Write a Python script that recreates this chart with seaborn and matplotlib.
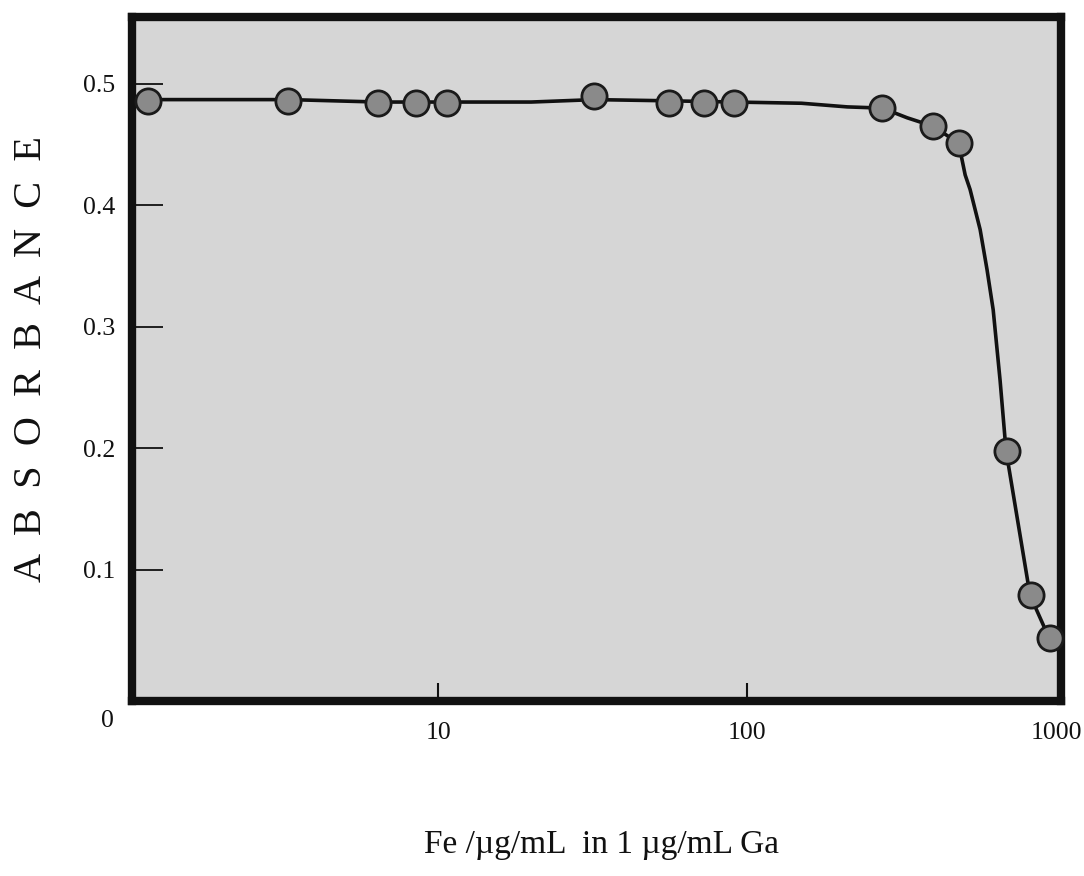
import matplotlib
matplotlib.use("Agg")
import matplotlib.pyplot as plt
import seaborn as sns
import pandas as pd
from matplotlib.ticker import NullLocator

# Measured points: Fe concentration (µg/mL) and absorbance
fe_conc = [1.15, 3.26, 6.4, 8.5, 10.7, 32, 56, 72.5, 91, 274, 401, 484, 695, 830, 955]
absorbance = [0.486, 0.486, 0.484, 0.484, 0.484, 0.490, 0.484, 0.484, 0.484,
              0.480, 0.465, 0.451, 0.198, 0.079, 0.044]

# Hand-drawn smooth curve
curve_x = [1.15, 3.3, 6.4, 10.7, 20, 32, 56, 91, 150, 211, 274, 330, 401, 484,
           508, 527, 568, 598, 626, 659, 689, 824, 949]
curve_y = [0.487, 0.487, 0.485, 0.485, 0.485, 0.487, 0.486, 0.485, 0.484, 0.481,
           0.480, 0.472, 0.465, 0.451, 0.425, 0.413, 0.380, 0.347, 0.314, 0.256,
           0.198, 0.079, 0.044]

x_ticks = [10, 100, 1000]
x_tick_labels = ["10", "100", "1000"]
y_ticks = [0.1, 0.2, 0.3, 0.4, 0.5]
y_tick_labels = ["0.1", "0.2", "0.3", "0.4", "0.5"]

sns.set_style("ticks")
plt.rcParams["font.family"] = ["Liberation Serif", "DejaVu Serif"]

fig = plt.figure(figsize=(10.84, 8.76), dpi=100)
ax = fig.add_axes([0.1218, 0.1998, 0.857, 0.7808])
ax.set_facecolor("#d6d6d6")

pts = pd.DataFrame({"x": fe_conc, "y": absorbance})
crv = pd.DataFrame({"x": curve_x, "y": curve_y})

sns.lineplot(data=crv, x="x", y="y", ax=ax, color="#111111", linewidth=2.6,
             sort=False, estimator=None, zorder=2)
ax.lines[-1].set_solid_joinstyle("round")
sns.scatterplot(data=pts, x="x", y="y", ax=ax, s=330, color="#8a8a8a",
                edgecolor="#1a1a1a", linewidth=2.0, zorder=3, clip_on=False)

ax.set_xscale("log")
ax.set_xlim(1.02, 1038)
ax.set_ylim(-0.008, 0.555)
ax.xaxis.set_minor_locator(NullLocator())
ax.yaxis.set_minor_locator(NullLocator())

ax.set_xticks(x_ticks)
ax.set_xticklabels(x_tick_labels)
ax.set_yticks(y_ticks)
ax.set_yticklabels(y_tick_labels)
ax.tick_params(axis="x", direction="in", length=13, width=1.5, pad=15,
               labelsize=18.5, colors="#111111")
ax.tick_params(axis="y", direction="in", length=22, width=1.3, pad=12,
               labelsize=18.5, colors="#111111")
ax.xaxis.get_major_ticks()[2].tick1line.set_visible(False)

for s in ax.spines.values():
    s.set_visible(True)
    s.set_linewidth(6)
    s.set_color("#111111")

ax.text(-0.027, -0.029, "0", transform=ax.transAxes, ha="center", va="center",
        fontsize=18.5, color="#111111")

ax.set_xlabel("")
ax.set_ylabel("A  B  S  O  R  B  A  N  C  E", fontsize=29, color="#111111",
              labelpad=24)
fig.text(601 / 1084, 1 - 845 / 876, "Fe /µg/mL  in 1 µg/mL Ga", ha="center",
         va="center", fontsize=24, color="#111111")

fig.savefig("out.png", dpi=100, facecolor="white")
